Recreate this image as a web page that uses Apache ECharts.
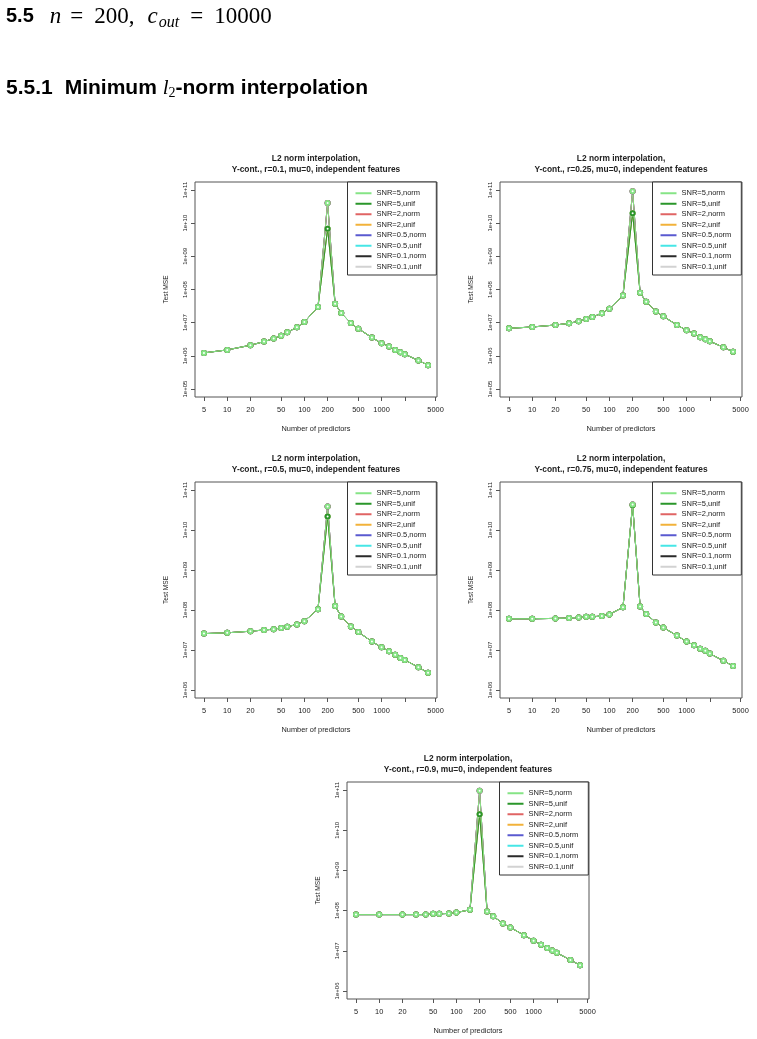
<!DOCTYPE html>
<html>
<head>
<meta charset="utf-8">
<title>L2 norm interpolation, n=200, c_out=10000</title>
<script src="https://cdn.jsdelivr.net/npm/echarts@6/dist/echarts.min.js"></script>
<style>
    html, body { margin: 0; padding: 0; background: #fff; }
    #main { width: 757px; height: 1039px; }
</style>
</head>
<body>
<div id="main"></div>
<script type="text/javascript">
// number of predictors (x) and test MSE
var predictors = [5, 10, 20, 30, 40, 50, 60, 80, 100, 150, 200, 250, 300, 400, 500, 750, 1000, 1250, 1500, 1750, 2000, 3000, 4000];
var xTicks = [5, 10, 20, 50, 100, 200, 500, 1000, 2000, 5000];
var xLabels = [5, 10, 20, 50, 100, 200, 500, 1000, 5000];

// r = 0.1
var normR01 = [1.23e6, 1.51e6, 2.09e6, 2.69e6, 3.31e6, 4.07e6, 5.13e6, 7.24e6, 1.05e7, 2.95e7, 4.07e10, 3.72e7, 1.95e7, 9.77e6, 6.61e6, 3.55e6, 2.40e6, 1.91e6, 1.51e6, 1.29e6, 1.12e6, 7.24e5, 5.25e5];
var unifR01 = [1.23e6, 1.51e6, 2.09e6, 2.69e6, 3.31e6, 4.07e6, 5.13e6, 7.24e6, 1.05e7, 2.95e7, 6.76e9, 3.72e7, 1.95e7, 9.77e6, 6.61e6, 3.55e6, 2.40e6, 1.91e6, 1.51e6, 1.29e6, 1.12e6, 7.24e5, 5.25e5];
// r = 0.25
var normR025 = [6.76e6, 7.41e6, 8.51e6, 9.55e6, 1.10e7, 1.29e7, 1.48e7, 1.91e7, 2.63e7, 6.61e7, 9.12e10, 7.94e7, 4.27e7, 2.19e7, 1.55e7, 8.51e6, 5.89e6, 4.68e6, 3.63e6, 3.16e6, 2.75e6, 1.82e6, 1.32e6];
var unifR025 = [6.76e6, 7.41e6, 8.51e6, 9.55e6, 1.10e7, 1.29e7, 1.48e7, 1.91e7, 2.63e7, 6.61e7, 2.00e10, 7.94e7, 4.27e7, 2.19e7, 1.55e7, 8.51e6, 5.89e6, 4.68e6, 3.63e6, 3.16e6, 2.75e6, 1.82e6, 1.32e6];
// r = 0.5
var normR05 = [2.57e7, 2.69e7, 2.95e7, 3.16e7, 3.31e7, 3.55e7, 3.80e7, 4.37e7, 5.25e7, 1.05e8, 3.89e10, 1.26e8, 6.92e7, 3.89e7, 2.82e7, 1.62e7, 1.17e7, 9.33e6, 7.59e6, 6.31e6, 5.62e6, 3.72e6, 2.69e6];
var unifR05 = [2.57e7, 2.69e7, 2.95e7, 3.16e7, 3.31e7, 3.55e7, 3.80e7, 4.37e7, 5.25e7, 1.05e8, 2.19e10, 1.26e8, 6.92e7, 3.89e7, 2.82e7, 1.62e7, 1.17e7, 9.33e6, 7.59e6, 6.31e6, 5.62e6, 3.72e6, 2.69e6];
// r = 0.75
var normR075 = [6.03e7, 6.03e7, 6.17e7, 6.31e7, 6.46e7, 6.76e7, 6.76e7, 7.08e7, 7.76e7, 1.17e8, 4.37e10, 1.23e8, 7.94e7, 4.90e7, 3.63e7, 2.29e7, 1.62e7, 1.32e7, 1.07e7, 9.55e6, 8.13e6, 5.37e6, 3.98e6];
var unifR075 = [6.03e7, 6.03e7, 6.17e7, 6.31e7, 6.46e7, 6.76e7, 6.76e7, 7.08e7, 7.76e7, 1.17e8, 4.17e10, 1.23e8, 7.94e7, 4.90e7, 3.63e7, 2.29e7, 1.62e7, 1.32e7, 1.07e7, 9.55e6, 8.13e6, 5.37e6, 3.98e6];
// r = 0.9
var normR09 = [7.94e7, 7.94e7, 7.94e7, 7.94e7, 7.94e7, 8.32e7, 8.32e7, 8.51e7, 8.91e7, 1.05e8, 9.55e10, 9.55e7, 7.24e7, 4.79e7, 3.80e7, 2.45e7, 1.78e7, 1.41e7, 1.17e7, 1.02e7, 8.91e6, 5.89e6, 4.37e6];
var unifR09 = [7.94e7, 7.94e7, 7.94e7, 7.94e7, 7.94e7, 8.32e7, 8.32e7, 8.51e7, 8.91e7, 1.05e8, 2.50e10, 9.55e7, 7.24e7, 4.79e7, 3.80e7, 2.45e7, 1.78e7, 1.41e7, 1.17e7, 1.02e7, 8.91e6, 5.89e6, 4.37e6];

var snrNames = ['SNR=5,norm', 'SNR=5,unif', 'SNR=2,norm', 'SNR=2,unif', 'SNR=0.5,norm', 'SNR=0.5,unif', 'SNR=0.1,norm', 'SNR=0.1,unif'];
var snrColors = ['#86e486', '#2a962a', '#e06464', '#f2b23a', '#5a5ad0', '#46e6e6', '#2a2a2a', '#d2d2d2'];

var panels = [
    { r: '0.1', norm: normR01, unif: unifR01, lowExp: 5, box: { left: 195, top: 182, width: 242, height: 215 } },
    { r: '0.25', norm: normR025, unif: unifR025, lowExp: 5, box: { left: 500, top: 182, width: 242, height: 215 } },
    { r: '0.5', norm: normR05, unif: unifR05, lowExp: 6, box: { left: 195, top: 482, width: 242, height: 216 } },
    { r: '0.75', norm: normR075, unif: unifR075, lowExp: 6, box: { left: 500, top: 482, width: 242, height: 216 } },
    { r: '0.9', norm: normR09, unif: unifR09, lowExp: 6, box: { left: 347, top: 782, width: 242, height: 217 } }
];

var FONT = '"Liberation Sans", Arial, sans-serif';
var SERIF = '"Liberation Serif", serif';
var INK = '#222';
var FRAME = '#555';

function lg(v) { return Math.log10(v); }

// R style: limits widened by 4% on the log scale
var xLo = lg(5), xHi = lg(4000), xPad = (xHi - xLo) * 0.04;

var grids = [], xAxes = [], yAxes = [], titles = [], legends = [], series = [];

panels.forEach(function (p, i) {
    var b = p.box;
    grids.push({
        left: b.left, top: b.top, width: b.width, height: b.height,
        show: true, borderColor: FRAME, borderWidth: 1, backgroundColor: 'transparent'
    });

    xAxes.push({
        type: 'value', gridIndex: i,
        min: xLo - xPad, max: xHi + xPad,
        axisLine: { show: false },
        splitLine: { show: false },
        axisTick: { show: true, length: 4, customValues: xTicks.map(lg), lineStyle: { color: FRAME } },
        axisLabel: {
            customValues: xLabels.map(lg), margin: 9, fontSize: 7.4, color: INK, fontFamily: FONT,
            formatter: function (v) { return String(Math.round(Math.pow(10, v))); }
        },
        name: 'Number of predictors', nameLocation: 'middle', nameGap: 28,
        nameTextStyle: { fontSize: 7.4, color: INK, fontFamily: FONT }
    });

    var exps = [];
    for (var e = p.lowExp; e <= 11; e++) exps.push(e);
    var yPad = (11 - p.lowExp) * 0.04;
    yAxes.push({
        type: 'value', gridIndex: i,
        min: p.lowExp - yPad, max: 11 + yPad,
        axisLine: { show: false },
        splitLine: { show: false },
        axisTick: { show: true, length: 4, customValues: exps, lineStyle: { color: FRAME } },
        axisLabel: {
            customValues: exps, rotate: 90, margin: 7, fontSize: 6, color: INK, fontFamily: FONT,
            formatter: function (v) { return '1e+' + (v < 10 ? '0' + v : v); }
        },
        name: 'Test MSE', nameLocation: 'middle', nameGap: 25,
        nameTextStyle: { fontSize: 6.6, color: INK, fontFamily: FONT }
    });

    titles.push({
        text: 'L2 norm interpolation,\nY-cont., r=' + p.r + ', mu=0, independent features',
        left: b.left + b.width / 2, top: b.top - 28.5, textAlign: 'center', padding: 0,
        textStyle: { fontSize: 8.4, fontWeight: 'bold', color: INK, fontFamily: FONT, lineHeight: 11 }
    });

    legends.push({
        orient: 'vertical', left: b.left + b.width - 89.5, top: b.top,
        data: snrNames, icon: 'rect', itemWidth: 16, itemHeight: 2, itemGap: 0,
        padding: [6, 10, 3, 8], borderColor: '#333', borderWidth: 1, borderRadius: 0,
        backgroundColor: '#fff', selectedMode: false,
        textStyle: { fontSize: 7.5, lineHeight: 10.5, color: INK, fontFamily: FONT }
    });

    // draw the SNR=5 curves last so they sit on top, as in the original
    for (var k = snrNames.length - 1; k >= 0; k--) {
        var curve = (k % 2 === 0) ? p.norm : p.unif;
        series.push({
            type: 'line', name: snrNames[k], xAxisIndex: i, yAxisIndex: i,
            data: predictors.map(function (x, j) { return [lg(x), lg(curve[j])]; }),
            symbol: 'emptyCircle', symbolSize: 4,
            itemStyle: { color: snrColors[k], borderWidth: 1 },
            lineStyle: { color: snrColors[k], width: 1 },
            emphasis: { disabled: true },
            animation: false
        });
    }
});

var chart = echarts.init(document.getElementById('main'));
chart.setOption({
    backgroundColor: '#fff',
    animation: false,
    textStyle: { fontFamily: FONT },
    title: titles,
    legend: legends,
    grid: grids,
    xAxis: xAxes,
    yAxis: yAxes,
    series: series,
    graphic: [
        {
            type: 'text', left: 6, top: 5,
            style: {
                text: '{h|5.5}{m|n}{e|=}{r|200,}{c|c}{s|out}{e|=}{r|10000}',
                fill: '#000',
                rich: {
                    h: { fontFamily: FONT, fontWeight: 'bold', fontSize: 20, lineHeight: 28, padding: [0, 16, 0, 0] },
                    m: { fontFamily: SERIF, fontStyle: 'italic', fontSize: 23, lineHeight: 28, padding: [0, 9, 0, 0] },
                    e: { fontFamily: SERIF, fontSize: 23, lineHeight: 28, padding: [0, 11, 0, 0] },
                    r: { fontFamily: SERIF, fontSize: 23, lineHeight: 28, padding: [0, 13, 0, 0] },
                    c: { fontFamily: SERIF, fontStyle: 'italic', fontSize: 23, lineHeight: 28, padding: [0, 1, 0, 0] },
                    s: { fontFamily: SERIF, fontStyle: 'italic', fontSize: 16, lineHeight: 16, verticalAlign: 'bottom', padding: [0, 11, 0, 0] }
                }
            }
        },
        {
            type: 'text', left: 6, top: 78,
            style: {
                text: '{h|5.5.1}{b|Minimum }{m|l}{s|2}{b|-norm interpolation}',
                fill: '#000',
                rich: {
                    h: { fontFamily: FONT, fontWeight: 'bold', fontSize: 21, lineHeight: 24, padding: [0, 12, 0, 0] },
                    b: { fontFamily: FONT, fontWeight: 'bold', fontSize: 21, lineHeight: 24 },
                    m: { fontFamily: SERIF, fontStyle: 'italic', fontSize: 21, lineHeight: 24 },
                    s: { fontFamily: SERIF, fontSize: 14, lineHeight: 14, verticalAlign: 'bottom' }
                }
            }
        }
    ]
});
</script>
</body>
</html>
